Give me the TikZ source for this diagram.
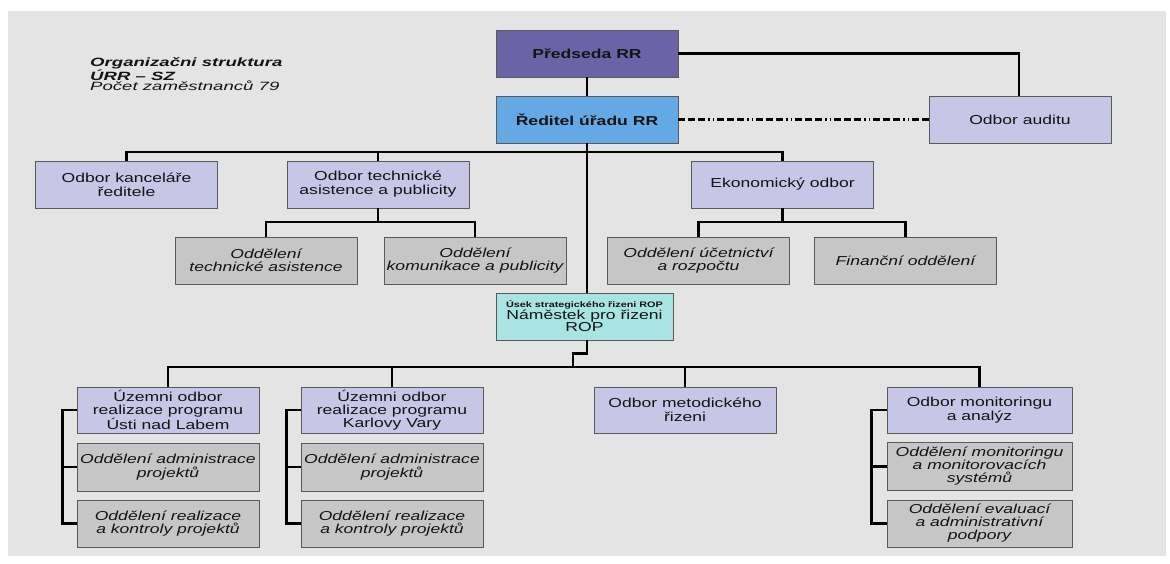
\documentclass[tikz,border=0pt]{standalone}
\usepackage{fontspec}
\setmainfont[FakeStretch=1.35]{Liberation Sans}
\newfontfamily\titlefont[FakeStretch=1.55]{Liberation Sans}
\definecolor{bgc}{HTML}{E4E4E4}
\definecolor{predc}{HTML}{6A64A6}
\definecolor{redc}{HTML}{64A8E4}
\definecolor{lavc}{HTML}{C8C6E6}
\definecolor{grayc}{HTML}{C6C6C6}
\definecolor{namc}{HTML}{A8E4E2}
\definecolor{edgec}{HTML}{5A5A5A}
\definecolor{txtc}{HTML}{141414}
\tikzset{
  box/.style={draw=edgec, line width=0.9pt, inner sep=0pt, align=center, text=txtc,
    minimum width=182pt, minimum height=47pt, font=\fontsize{13}{14}\selectfont},
  lav/.style={box, fill=lavc},
  sub/.style={box, fill=grayc, font=\fontsize{13}{13.5}\selectfont\itshape},
  link/.style={line width=2.7pt, black},
  dashdot/.style={line width=2.3pt, black, dash pattern=on 7pt off 3pt on 7pt off 3pt on 7pt off 3pt on 1.5pt off 3pt on 1.5pt off 3pt},
}
\begin{document}
\begin{tikzpicture}[x=1pt,y=-1pt]
\useasboundingbox (0,0) rectangle (1170,563);
\fill[white] (0,0) rectangle (1170,563);
\fill[bgc] (8,11) rectangle (1166,556);

% title
\node[anchor=north west, inner sep=0pt, align=left, text=txtc,
      font=\titlefont\fontsize{12}{10.5}\selectfont] (title) at (90,57)
  {\bfseries\itshape Organizačni struktura\\\bfseries\itshape ÚRR – SZ\\\itshape Počet zaměstnanců 79};

% top level
\node[box, fill=predc, font=\fontsize{13}{14}\selectfont\bfseries] (pred) at (587,53.5) {Předseda RR};
\node[box, fill=redc, font=\fontsize{13}{14}\selectfont\bfseries] (red) at (587,119.5) {Ředitel úřadu RR};
\node[lav] (aud) at (1020,119.5) {Odbor auditu};

% second level
\node[lav] (kanc) at (126.5,184.5) {Odbor kanceláře\\ředitele};
\node[lav] (tech) at (378,184.5) {Odbor technické\\asistence a publicity};
\node[lav] (eko) at (782.5,184.5) {Ekonomický odbor};

\node[sub] (tas) at (266,260.5) {Oddělení\\technické asistence};
\node[sub] (kom) at (475,260.5) {Oddělení\\komunikace a publicity};
\node[sub] (uct) at (698.5,260.5) {Oddělení účetnictví\\a rozpočtu};
\node[sub] (fin) at (905.5,260.5) {Finanční oddělení};

% deputy
\node[box, fill=namc, minimum width=177pt, font=\fontsize{13}{12.5}\selectfont] (nam) at (584.5,316.5)
  {{\fontsize{8}{9}\selectfont\bfseries Úsek strategického řizeni ROP}\\[-1pt]Náměstek pro řizeni\\ROP};

% bottom level
\node[lav, minimum height=46pt, font=\fontsize{13}{13}\selectfont] (uz1) at (168,410) {Územni odbor\\realizace programu\\Ústi nad Labem};
\node[sub, minimum height=48pt] (uz1a) at (168,467) {Oddělení administrace\\projektů};
\node[sub] (uz1b) at (168,523.5) {Oddělení realizace\\a kontroly projektů};

\node[lav, minimum height=46pt, font=\fontsize{13}{13}\selectfont] (uz2) at (392,410) {Územni odbor\\realizace programu\\Karlovy Vary};
\node[sub, minimum height=48pt] (uz2a) at (392,467) {Oddělení administrace\\projektů};
\node[sub] (uz2b) at (392,523.5) {Oddělení realizace\\a kontroly projektů};

\node[lav, minimum height=46pt] (met) at (685,410) {Odbor metodického\\řizeni};

\node[lav, minimum width=185pt, minimum height=46pt] (mon) at (979.5,410) {Odbor monitoringu\\a analýz};
\node[sub, minimum width=185pt, minimum height=48pt, font=\fontsize{13}{13}\selectfont\itshape] (mona) at (979.5,466.5) {Oddělení monitoringu\\a monitorovacích\\systémů};
\node[sub, minimum width=185pt, font=\fontsize{13}{13}\selectfont\itshape] (monb) at (979.5,523.5) {Oddělení evaluací\\a administrativní\\podpory};

% coordinates of bus lines
\coordinate (b1) at (587,152);
\coordinate (b2) at (378,222);
\coordinate (b3) at (782.5,222);
\coordinate (b4) at (573,367);
\coordinate (audc) at (1019,53.5);

% connectors
\draw[link] (pred) -- (red);
\draw[link] (pred.east) -- (audc) -- (audc |- aud.north);
\draw[dashdot] (red.east) -- (aud.west);
\draw[link] (red.south) -- (red.south |- nam.north);
\draw[link] (kanc.north) |- (b1) -| (eko.north);
\draw[link] (tech.north) |- (b1);
\draw[link] (tech.south) -- (b2);
\draw[link] (tas.north) |- (b2) -| (kom.north);
\draw[link] (eko.south) -- (b3);
\draw[link] (uct.north) |- (b3) -| (fin.north);
\draw[link] (red.south |- nam.south) -- ++(0,13) -| (b4);
\draw[link] (uz1.north) |- (b4) -| (mon.north);
\draw[link] (uz2.north) |- (b4);
\draw[link] (met.north) |- (b4);
\draw[link] (uz1.west) -- ++(-14,0) |- (uz1b.west);
\draw[link] (uz1a.west) -- ++(-14,0);
\draw[link] (uz2.west) -- ++(-14,0) |- (uz2b.west);
\draw[link] (uz2a.west) -- ++(-14,0);
\draw[link] (mon.west) -- ++(-15,0) |- (monb.west);
\draw[link] (mona.west) -- ++(-15,0);
\end{tikzpicture}
\end{document}
